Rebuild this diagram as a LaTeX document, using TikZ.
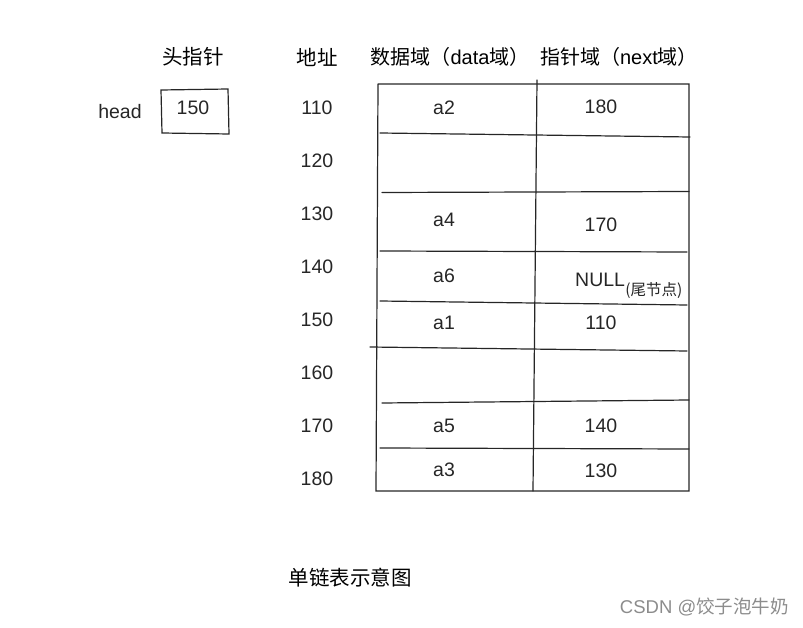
\documentclass[tikz,border=0pt]{standalone}
\usepackage{fontspec}
\setmainfont{Liberation Sans}
\newfontfamily\cjk{Noto Sans CJK SC}

\begin{document}
\begin{tikzpicture}[x=1pt,y=-1pt,
    txt/.style={font=\fontsize{19.5}{21}\selectfont, text=black!85, inner sep=0pt},
    hdr/.style={font=\fontsize{20}{22}\selectfont, text=black, inner sep=0pt},
    rule/.style={line width=1.2pt, black!85, line cap=round}]
    \useasboundingbox (0,0) rectangle (803,628);

    % column headings
    \node[hdr] (hhead) at (193, 57) { {\cjk\fontsize{20.5}{22}\selectfont 头指针} };
    \node[hdr] (haddr) at (317, 57) { {\cjk\fontsize{20.5}{22}\selectfont 地址} };
    \node[hdr] (hdata) at (450, 57) { {\cjk 数据域（}data{\cjk 域）} };
    \node[hdr] (hnext) at (619, 57) { {\cjk 指针域（}next{\cjk 域）} };

    % head pointer
    \node[txt] (headlbl) at (120, 112) { head };
    \draw[rule] (161, 90) -- (228, 89) -- (229, 134) -- (162, 133) -- cycle;
    \node[txt] (headval) at (193, 108) { 150 };

    % addresses
    \node[txt] (ad1) at (317, 108) { 110 };
    \node[txt] (ad2) at (317, 161) { 120 };
    \node[txt] (ad3) at (317, 214) { 130 };
    \node[txt] (ad4) at (317, 267) { 140 };
    \node[txt] (ad5) at (317, 320) { 150 };
    \node[txt] (ad6) at (317, 373) { 160 };
    \node[txt] (ad7) at (317, 426) { 170 };
    \node[txt] (ad8) at (317, 479) { 180 };

    % table frame
    \coordinate (A1) at (378, 84);
    \coordinate (B1) at (689, 84);
    \coordinate (C1) at (689, 491);
    \coordinate (D1) at (376, 491);
    \draw[rule] (A1) -- (B1) -- (C1) -- (D1) -- (A1);
    \draw[rule] (537, 80) -- (533, 491);

    \draw[rule] (380, 133) -- (690, 137);
    \draw[rule] (382, 192.5) -- (689, 191.5);
    \draw[rule] (380, 251) -- (687, 252);
    \draw[rule] (380, 301) -- (687, 305);
    \draw[rule] (370, 347) -- (687, 351);
    \draw[rule] (382, 403) -- (689, 400);
    \draw[rule] (380, 448) -- (689, 449);

    % cells
    \node[txt] (d1) at (444, 108) { a2 };
    \node[txt] (n1) at (601, 107) { 180 };
    \node[txt] (d3) at (444, 220) { a4 };
    \node[txt] (n3) at (601, 225) { 170 };
    \node[txt] (d4) at (444, 276) { a6 };
    \node[txt, anchor=west] (n4) at (575, 280) { NULL };
    \node[inner sep=0pt, anchor=west, text=black!85, font=\fontsize{15.5}{16}\selectfont\cjk]
        (tail) at (n4.east |- 0, 291) { (尾节点) };
    \node[txt] (d5) at (444, 323) { a1 };
    \node[txt] (n5) at (601, 323) { 110 };
    \node[txt] (d7) at (444, 426) { a5 };
    \node[txt] (n7) at (601, 426) { 140 };
    \node[txt] (d8) at (444, 470) { a3 };
    \node[txt] (n8) at (601, 471) { 130 };

    % caption and mark
    \node[hdr] (cap) at (350, 578) { {\cjk\fontsize{20.5}{22}\selectfont 单链表示意图} };
    \node[inner sep=0pt, anchor=east, text=black!45, font=\fontsize{18.5}{20}\selectfont]
        (mark) at (789, 607) { CSDN @{\cjk 饺子泡牛奶} };
\end{tikzpicture}
\end{document}
